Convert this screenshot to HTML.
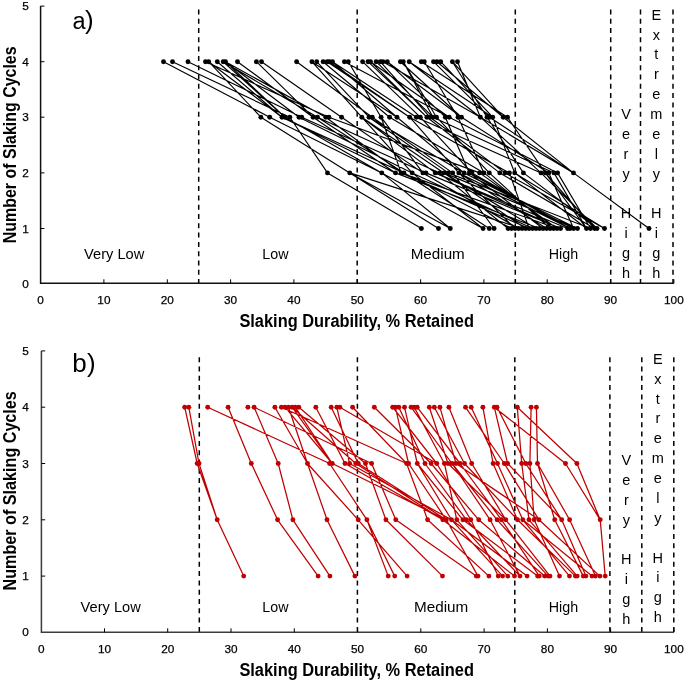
<!DOCTYPE html><html><head><meta charset="utf-8"><style>
html,body{margin:0;padding:0;background:#fff;overflow:hidden;width:685px;height:682px;}
svg{display:block;will-change:transform;}
text{font-family:"Liberation Sans",sans-serif;fill:#000;}
.tl{font-size:11.8px;stroke:#000;stroke-width:0.25px;}
.tt{font-size:18px;font-weight:bold;}
.zl{font-size:14px;}
.vl{font-size:14.5px;}
.pl{font-size:26px;}
.dash{stroke:#000;stroke-width:1.5;stroke-dasharray:5 4.3;}
.ax{stroke:#000;stroke-width:1.5;fill:none;}
.tk{stroke:#000;stroke-width:1;fill:none;}
</style></head><body>
<svg width="685" height="682" viewBox="0 0 685 682">
<rect width="685" height="682" fill="#fff"/>

<line x1="198.7" y1="9.4" x2="198.7" y2="283.3" class="dash"/>
<line x1="357.2" y1="9.4" x2="357.2" y2="283.3" class="dash"/>
<line x1="515.3" y1="9.4" x2="515.3" y2="283.3" class="dash"/>
<line x1="610.7" y1="9.4" x2="610.7" y2="283.3" class="dash"/>
<line x1="640.5" y1="9.4" x2="640.5" y2="283.3" class="dash"/>
<line x1="673" y1="9.4" x2="673" y2="283.3" class="dash"/>
<path d="M163.5 61.7L269.7 117.2M172.5 61.7L289.8 117.2M188 61.7L301.7 117.2M208.7 61.7L260.9 117.2M296.6 61.7L372.3 117.2M311.9 61.7L361.8 117.2M316.7 61.7L369 117.2M261.5 61.7L341.6 117.2M217.3 61.7L282 117.2M223.2 61.7L285 117.2M225.5 61.7L299 117.2M256.4 61.7L313.1 117.2M223.2 61.7L317.5 117.2M225.5 61.7L325.8 117.2M205.5 61.7L328.9 117.2M348.3 61.7L381.1 117.2M323.1 61.7L389.6 117.2M332.5 61.7L397 117.2M329.4 61.7L409.7 117.2M332.5 61.7L416.4 117.2M362.6 61.7L420.3 117.2M370.5 61.7L426.9 117.2M380.3 61.7L430 117.2M403.3 61.7L433 117.2M403.3 61.7L436.5 117.2M387.3 61.7L445.3 117.2M344.4 61.7L449.2 117.2M424.3 61.7L458 117.2M400.4 61.7L461.5 117.2M457.5 61.7L480.4 117.2M452.4 61.7L487 117.2M433.5 61.7L489.6 117.2M440.7 61.7L492.7 117.2M452.4 61.7L503.2 117.2M421.3 61.7L507.5 117.2M237.5 61.7L313.1 117.2M327.2 61.7L409.7 117.2M368 61.7L426.9 117.2M376.1 61.7L433 117.2M382.9 61.7L480.4 117.2M409.2 61.7L492.7 117.2M437 61.7L503.2 117.2M370.5 61.7L449.2 117.2M409.2 61.7L480.4 117.2M387.3 61.7L461.5 117.2M208.7 61.7L282 117.2M311.9 61.7L397 117.2M225.5 61.7L285 117.2M260.9 117.2L349.8 172.9M289.8 117.2L327.5 172.9M269.7 117.2L381.8 172.9M282 117.2L395.5 172.9M381.1 117.2L401.2 172.9M282 117.2L404 172.9M299 117.2L412.2 172.9M381.1 117.2L422.9 172.9M301.7 117.2L425.9 172.9M361.8 117.2L435.2 172.9M317.5 117.2L439.5 172.9M361.8 117.2L443.9 172.9M369 117.2L448.3 172.9M372.3 117.2L452.7 172.9M409.7 117.2L458.8 172.9M369 117.2L464.1 172.9M445.3 117.2L469.3 172.9M420.3 117.2L471.9 172.9M328.9 117.2L479.6 172.9M458 117.2L484 172.9M436.5 117.2L489.3 172.9M426.9 117.2L499.8 172.9M430 117.2L505 172.9M409.7 117.2L509.4 172.9M492.7 117.2L514.7 172.9M487 117.2L523.4 172.9M416.4 117.2L541 172.9M507.5 117.2L545.3 172.9M461.5 117.2L548.8 172.9M433 117.2L554 172.9M449.2 117.2L557.6 172.9M480.4 117.2L573.5 172.9M285 117.2L381.8 172.9M313.1 117.2L395.5 172.9M325.8 117.2L401.2 172.9M341.6 117.2L422.9 172.9M389.6 117.2L484 172.9M397 117.2L464.1 172.9M489.6 117.2L573.5 172.9M503.2 117.2L573.5 172.9M480.4 117.2L541 172.9M361.8 117.2L412.2 172.9M317.5 117.2L404 172.9M327.5 172.9L421.4 228.5M349.8 172.9L438.5 228.5M349.8 172.9L522.1 228.5M381.8 172.9L450.3 228.5M573.5 172.9L649 228.5M412.2 172.9L483.1 228.5M404 172.9L489.3 228.5M452.7 172.9L494.1 228.5M439.5 172.9L508.1 228.5M404 172.9L511.6 228.5M458.8 172.9L515.1 228.5M422.9 172.9L518.6 228.5M443.9 172.9L525.6 228.5M509.4 172.9L529.1 228.5M412.2 172.9L532.6 228.5M443.9 172.9L536.1 228.5M395.5 172.9L539.6 228.5M469.3 172.9L543.1 228.5M458.8 172.9L546.6 228.5M489.3 172.9L550.1 228.5M484 172.9L553.6 228.5M479.6 172.9L557.1 228.5M435.2 172.9L560.6 228.5M435.2 172.9L567.6 228.5M471.9 172.9L570 228.5M464.1 172.9L573.6 228.5M464.1 172.9L577.5 228.5M514.7 172.9L586.5 228.5M557.6 172.9L590.5 228.5M545.3 172.9L594.6 228.5M523.4 172.9L597 228.5M514.7 172.9L604.5 228.5M401.2 172.9L557.1 228.5M425.9 172.9L560.6 228.5M448.3 172.9L590.5 228.5M499.8 172.9L594.6 228.5M505 172.9L604.5 228.5M541 172.9L597 228.5M548.8 172.9L573.6 228.5M554 172.9L586.5 228.5M401.2 172.9L529.1 228.5M381.8 172.9L483.1 228.5M349.8 172.9L450.3 228.5M469.3 172.9L570 228.5M545.3 172.9L586.5 228.5M443.9 172.9L577.5 228.5M458.8 172.9L570 228.5" stroke="#000000" stroke-width="1.15" fill="none"/>
<circle cx="163.5" cy="61.7" r="2.45" fill="#000000"/>
<circle cx="172.5" cy="61.7" r="2.45" fill="#000000"/>
<circle cx="188" cy="61.7" r="2.45" fill="#000000"/>
<circle cx="205.5" cy="61.7" r="2.45" fill="#000000"/>
<circle cx="208.7" cy="61.7" r="2.45" fill="#000000"/>
<circle cx="217.3" cy="61.7" r="2.45" fill="#000000"/>
<circle cx="223.2" cy="61.7" r="2.45" fill="#000000"/>
<circle cx="225.5" cy="61.7" r="2.45" fill="#000000"/>
<circle cx="237.5" cy="61.7" r="2.45" fill="#000000"/>
<circle cx="256.4" cy="61.7" r="2.45" fill="#000000"/>
<circle cx="261.5" cy="61.7" r="2.45" fill="#000000"/>
<circle cx="296.6" cy="61.7" r="2.45" fill="#000000"/>
<circle cx="311.9" cy="61.7" r="2.45" fill="#000000"/>
<circle cx="316.7" cy="61.7" r="2.45" fill="#000000"/>
<circle cx="323.1" cy="61.7" r="2.45" fill="#000000"/>
<circle cx="327.2" cy="61.7" r="2.45" fill="#000000"/>
<circle cx="329.4" cy="61.7" r="2.45" fill="#000000"/>
<circle cx="332.5" cy="61.7" r="2.45" fill="#000000"/>
<circle cx="344.4" cy="61.7" r="2.45" fill="#000000"/>
<circle cx="348.3" cy="61.7" r="2.45" fill="#000000"/>
<circle cx="362.6" cy="61.7" r="2.45" fill="#000000"/>
<circle cx="368" cy="61.7" r="2.45" fill="#000000"/>
<circle cx="370.5" cy="61.7" r="2.45" fill="#000000"/>
<circle cx="376.1" cy="61.7" r="2.45" fill="#000000"/>
<circle cx="380.3" cy="61.7" r="2.45" fill="#000000"/>
<circle cx="382.9" cy="61.7" r="2.45" fill="#000000"/>
<circle cx="387.3" cy="61.7" r="2.45" fill="#000000"/>
<circle cx="400.4" cy="61.7" r="2.45" fill="#000000"/>
<circle cx="403.3" cy="61.7" r="2.45" fill="#000000"/>
<circle cx="409.2" cy="61.7" r="2.45" fill="#000000"/>
<circle cx="421.3" cy="61.7" r="2.45" fill="#000000"/>
<circle cx="424.3" cy="61.7" r="2.45" fill="#000000"/>
<circle cx="433.5" cy="61.7" r="2.45" fill="#000000"/>
<circle cx="437" cy="61.7" r="2.45" fill="#000000"/>
<circle cx="440.7" cy="61.7" r="2.45" fill="#000000"/>
<circle cx="452.4" cy="61.7" r="2.45" fill="#000000"/>
<circle cx="457.5" cy="61.7" r="2.45" fill="#000000"/>
<circle cx="260.9" cy="117.2" r="2.45" fill="#000000"/>
<circle cx="269.7" cy="117.2" r="2.45" fill="#000000"/>
<circle cx="282" cy="117.2" r="2.45" fill="#000000"/>
<circle cx="285" cy="117.2" r="2.45" fill="#000000"/>
<circle cx="289.8" cy="117.2" r="2.45" fill="#000000"/>
<circle cx="299" cy="117.2" r="2.45" fill="#000000"/>
<circle cx="301.7" cy="117.2" r="2.45" fill="#000000"/>
<circle cx="313.1" cy="117.2" r="2.45" fill="#000000"/>
<circle cx="317.5" cy="117.2" r="2.45" fill="#000000"/>
<circle cx="325.8" cy="117.2" r="2.45" fill="#000000"/>
<circle cx="328.9" cy="117.2" r="2.45" fill="#000000"/>
<circle cx="341.6" cy="117.2" r="2.45" fill="#000000"/>
<circle cx="361.8" cy="117.2" r="2.45" fill="#000000"/>
<circle cx="369" cy="117.2" r="2.45" fill="#000000"/>
<circle cx="372.3" cy="117.2" r="2.45" fill="#000000"/>
<circle cx="381.1" cy="117.2" r="2.45" fill="#000000"/>
<circle cx="389.6" cy="117.2" r="2.45" fill="#000000"/>
<circle cx="397" cy="117.2" r="2.45" fill="#000000"/>
<circle cx="409.7" cy="117.2" r="2.45" fill="#000000"/>
<circle cx="416.4" cy="117.2" r="2.45" fill="#000000"/>
<circle cx="420.3" cy="117.2" r="2.45" fill="#000000"/>
<circle cx="426.9" cy="117.2" r="2.45" fill="#000000"/>
<circle cx="430" cy="117.2" r="2.45" fill="#000000"/>
<circle cx="433" cy="117.2" r="2.45" fill="#000000"/>
<circle cx="436.5" cy="117.2" r="2.45" fill="#000000"/>
<circle cx="445.3" cy="117.2" r="2.45" fill="#000000"/>
<circle cx="449.2" cy="117.2" r="2.45" fill="#000000"/>
<circle cx="458" cy="117.2" r="2.45" fill="#000000"/>
<circle cx="461.5" cy="117.2" r="2.45" fill="#000000"/>
<circle cx="480.4" cy="117.2" r="2.45" fill="#000000"/>
<circle cx="487" cy="117.2" r="2.45" fill="#000000"/>
<circle cx="489.6" cy="117.2" r="2.45" fill="#000000"/>
<circle cx="492.7" cy="117.2" r="2.45" fill="#000000"/>
<circle cx="503.2" cy="117.2" r="2.45" fill="#000000"/>
<circle cx="507.5" cy="117.2" r="2.45" fill="#000000"/>
<circle cx="327.5" cy="172.9" r="2.45" fill="#000000"/>
<circle cx="349.8" cy="172.9" r="2.45" fill="#000000"/>
<circle cx="381.8" cy="172.9" r="2.45" fill="#000000"/>
<circle cx="395.5" cy="172.9" r="2.45" fill="#000000"/>
<circle cx="401.2" cy="172.9" r="2.45" fill="#000000"/>
<circle cx="404" cy="172.9" r="2.45" fill="#000000"/>
<circle cx="412.2" cy="172.9" r="2.45" fill="#000000"/>
<circle cx="422.9" cy="172.9" r="2.45" fill="#000000"/>
<circle cx="425.9" cy="172.9" r="2.45" fill="#000000"/>
<circle cx="435.2" cy="172.9" r="2.45" fill="#000000"/>
<circle cx="439.5" cy="172.9" r="2.45" fill="#000000"/>
<circle cx="443.9" cy="172.9" r="2.45" fill="#000000"/>
<circle cx="448.3" cy="172.9" r="2.45" fill="#000000"/>
<circle cx="452.7" cy="172.9" r="2.45" fill="#000000"/>
<circle cx="458.8" cy="172.9" r="2.45" fill="#000000"/>
<circle cx="464.1" cy="172.9" r="2.45" fill="#000000"/>
<circle cx="469.3" cy="172.9" r="2.45" fill="#000000"/>
<circle cx="471.9" cy="172.9" r="2.45" fill="#000000"/>
<circle cx="479.6" cy="172.9" r="2.45" fill="#000000"/>
<circle cx="484" cy="172.9" r="2.45" fill="#000000"/>
<circle cx="489.3" cy="172.9" r="2.45" fill="#000000"/>
<circle cx="499.8" cy="172.9" r="2.45" fill="#000000"/>
<circle cx="505" cy="172.9" r="2.45" fill="#000000"/>
<circle cx="509.4" cy="172.9" r="2.45" fill="#000000"/>
<circle cx="514.7" cy="172.9" r="2.45" fill="#000000"/>
<circle cx="523.4" cy="172.9" r="2.45" fill="#000000"/>
<circle cx="541" cy="172.9" r="2.45" fill="#000000"/>
<circle cx="545.3" cy="172.9" r="2.45" fill="#000000"/>
<circle cx="548.8" cy="172.9" r="2.45" fill="#000000"/>
<circle cx="554" cy="172.9" r="2.45" fill="#000000"/>
<circle cx="557.6" cy="172.9" r="2.45" fill="#000000"/>
<circle cx="573.5" cy="172.9" r="2.45" fill="#000000"/>
<circle cx="421.4" cy="228.5" r="2.45" fill="#000000"/>
<circle cx="438.5" cy="228.5" r="2.45" fill="#000000"/>
<circle cx="450.3" cy="228.5" r="2.45" fill="#000000"/>
<circle cx="483.1" cy="228.5" r="2.45" fill="#000000"/>
<circle cx="489.3" cy="228.5" r="2.45" fill="#000000"/>
<circle cx="494.1" cy="228.5" r="2.45" fill="#000000"/>
<circle cx="508.1" cy="228.5" r="2.45" fill="#000000"/>
<circle cx="511.6" cy="228.5" r="2.45" fill="#000000"/>
<circle cx="515.1" cy="228.5" r="2.45" fill="#000000"/>
<circle cx="518.6" cy="228.5" r="2.45" fill="#000000"/>
<circle cx="522.1" cy="228.5" r="2.45" fill="#000000"/>
<circle cx="525.6" cy="228.5" r="2.45" fill="#000000"/>
<circle cx="529.1" cy="228.5" r="2.45" fill="#000000"/>
<circle cx="532.6" cy="228.5" r="2.45" fill="#000000"/>
<circle cx="536.1" cy="228.5" r="2.45" fill="#000000"/>
<circle cx="539.6" cy="228.5" r="2.45" fill="#000000"/>
<circle cx="543.1" cy="228.5" r="2.45" fill="#000000"/>
<circle cx="546.6" cy="228.5" r="2.45" fill="#000000"/>
<circle cx="550.1" cy="228.5" r="2.45" fill="#000000"/>
<circle cx="553.6" cy="228.5" r="2.45" fill="#000000"/>
<circle cx="557.1" cy="228.5" r="2.45" fill="#000000"/>
<circle cx="560.6" cy="228.5" r="2.45" fill="#000000"/>
<circle cx="567.6" cy="228.5" r="2.45" fill="#000000"/>
<circle cx="570" cy="228.5" r="2.45" fill="#000000"/>
<circle cx="573.6" cy="228.5" r="2.45" fill="#000000"/>
<circle cx="577.5" cy="228.5" r="2.45" fill="#000000"/>
<circle cx="586.5" cy="228.5" r="2.45" fill="#000000"/>
<circle cx="590.5" cy="228.5" r="2.45" fill="#000000"/>
<circle cx="594.6" cy="228.5" r="2.45" fill="#000000"/>
<circle cx="597" cy="228.5" r="2.45" fill="#000000"/>
<circle cx="604.5" cy="228.5" r="2.45" fill="#000000"/>
<circle cx="649" cy="228.5" r="2.45" fill="#000000"/>
<path d="M40.6 6V283.3H673.9" class="ax" style="stroke:#111"/>
<path d="M103.9 283.3V279.3M167.3 283.3V279.3M230.6 283.3V279.3M293.9 283.3V279.3M357.3 283.3V279.3M420.6 283.3V279.3M483.9 283.3V279.3M547.2 283.3V279.3M610.6 283.3V279.3M673.9 283.3V279.3M40.6 228.5H44.4M40.6 172.9H44.4M40.6 117.2H44.4M40.6 61.7H44.4M40.6 6.1H44.4" class="tk"/>
<text x="40.6" y="303.9" class="tl" text-anchor="middle">0</text>
<text x="103.9" y="303.9" class="tl" text-anchor="middle">10</text>
<text x="167.3" y="303.9" class="tl" text-anchor="middle">20</text>
<text x="230.6" y="303.9" class="tl" text-anchor="middle">30</text>
<text x="293.9" y="303.9" class="tl" text-anchor="middle">40</text>
<text x="357.3" y="303.9" class="tl" text-anchor="middle">50</text>
<text x="420.6" y="303.9" class="tl" text-anchor="middle">60</text>
<text x="483.9" y="303.9" class="tl" text-anchor="middle">70</text>
<text x="547.2" y="303.9" class="tl" text-anchor="middle">80</text>
<text x="610.6" y="303.9" class="tl" text-anchor="middle">90</text>
<text x="673.9" y="303.9" class="tl" text-anchor="middle">100</text>
<text x="25.6" y="288.1" class="tl" text-anchor="middle">0</text>
<text x="25.6" y="232.5" class="tl" text-anchor="middle">1</text>
<text x="25.6" y="176.9" class="tl" text-anchor="middle">2</text>
<text x="25.6" y="121.2" class="tl" text-anchor="middle">3</text>
<text x="25.6" y="65.7" class="tl" text-anchor="middle">4</text>
<text x="25.6" y="10.1" class="tl" text-anchor="middle">5</text>
<line x1="199.3" y1="357.2" x2="199.3" y2="632.3" class="dash"/>
<line x1="357.4" y1="357.2" x2="357.4" y2="632.3" class="dash"/>
<line x1="514.8" y1="357.2" x2="514.8" y2="632.3" class="dash"/>
<line x1="609.9" y1="357.2" x2="609.9" y2="632.3" class="dash"/>
<line x1="641.8" y1="357.2" x2="641.8" y2="632.3" class="dash"/>
<line x1="673.8" y1="357.2" x2="673.8" y2="632.3" class="dash"/>
<path d="M184.7 407.2L197.2 463.5M188.8 407.2L199 463.5M288.5 407.2L307.5 463.5M315.8 407.2L345 463.5M331.2 407.2L358.3 463.5M207.7 407.2L329.6 463.5M228.1 407.2L251.3 463.5M254.1 407.2L278.2 463.5M254.1 407.2L371.6 463.5M274.9 407.2L307.5 463.5M336.8 407.2L349.6 463.5M339.9 407.2L436.7 463.5M352.6 407.2L406.6 463.5M281.4 407.2L406.6 463.5M392.7 407.2L436.7 463.5M395.3 407.2L408.6 463.5M398.8 407.2L425 463.5M404.5 407.2L417.3 463.5M411.1 407.2L452 463.5M414.2 407.2L444.4 463.5M417.2 407.2L460 463.5M429.3 407.2L448 463.5M434.3 407.2L464.5 463.5M439.9 407.2L456 463.5M374.3 407.2L431.1 463.5M448.9 407.2L471.7 463.5M482.9 407.2L493.1 463.5M494.3 407.2L507.6 463.5M494.3 407.2L565.5 463.5M517.3 407.2L521.7 463.5M517.3 407.2L576.9 463.5M531.1 407.2L529.9 463.5M536.4 407.2L537.5 463.5M471.2 407.2L497.5 463.5M292.1 407.2L332.3 463.5M292.1 407.2L355.8 463.5M298.8 407.2L365.5 463.5M465.5 407.2L504.3 463.5M497 407.2L525.8 463.5M285 407.2L332.3 463.5M295.2 407.2L332.3 463.5M197.2 463.5L217.2 519.8M199 463.5L217.2 519.8M251.3 463.5L277.6 519.8M278.2 463.5L292.9 519.8M307.5 463.5L327 519.8M307.5 463.5L358.2 519.8M329.6 463.5L366.9 519.8M365.5 463.5L385.9 519.8M371.6 463.5L395.8 519.8M406.6 463.5L427.6 519.8M355.8 463.5L442.8 519.8M408.6 463.5L446.3 519.8M417.3 463.5L451.5 519.8M444.4 463.5L456.8 519.8M417.3 463.5L462.9 519.8M425 463.5L466.4 519.8M436.7 463.5L470.8 519.8M431.1 463.5L478.7 519.8M452 463.5L490.1 519.8M452 463.5L497.1 519.8M460 463.5L501.5 519.8M471.7 463.5L505.8 519.8M464.5 463.5L517.5 519.8M497.5 463.5L522.8 519.8M521.7 463.5L529 519.8M529.9 463.5L534.2 519.8M504.3 463.5L539 519.8M537.5 463.5L554.7 519.8M525.8 463.5L561.7 519.8M537.5 463.5L569.6 519.8M576.9 463.5L600.2 519.8M332.3 463.5L446.3 519.8M345 463.5L442.8 519.8M349.6 463.5L451.5 519.8M358.3 463.5L446.3 519.8M448 463.5L505.8 519.8M456 463.5L539 519.8M493.1 463.5L517.5 519.8M507.6 463.5L561.7 519.8M565.5 463.5L600.2 519.8M217.2 519.8L243.7 576.1M277.6 519.8L318.1 576.1M292.9 519.8L329.9 576.1M327 519.8L354.9 576.1M358.2 519.8L407.1 576.1M366.9 519.8L388.2 576.1M366.9 519.8L394.7 576.1M385.9 519.8L442.5 576.1M395.8 519.8L476.3 576.1M427.6 519.8L488.9 576.1M446.3 519.8L478 576.1M470.8 519.8L498.2 576.1M451.5 519.8L502.6 576.1M456.8 519.8L507.8 576.1M442.8 519.8L514.5 576.1M466.4 519.8L520 576.1M451.5 519.8L527.1 576.1M462.9 519.8L537.6 576.1M501.5 519.8L539.3 576.1M478.7 519.8L544.6 576.1M497.1 519.8L548.1 576.1M505.8 519.8L550 576.1M534.2 519.8L559.5 576.1M522.8 519.8L569.5 576.1M517.5 519.8L575.4 576.1M529 519.8L577.2 576.1M554.7 519.8L583.3 576.1M561.7 519.8L585.9 576.1M522.8 519.8L592 576.1M569.6 519.8L595.5 576.1M539 519.8L599.9 576.1M600.2 519.8L605.2 576.1M490.1 519.8L520 576.1" stroke="#C00000" stroke-width="1.25" fill="none"/>
<circle cx="184.7" cy="407.2" r="2.45" fill="#C00000"/>
<circle cx="188.8" cy="407.2" r="2.45" fill="#C00000"/>
<circle cx="207.7" cy="407.2" r="2.45" fill="#C00000"/>
<circle cx="228.1" cy="407.2" r="2.45" fill="#C00000"/>
<circle cx="247.9" cy="407.2" r="2.45" fill="#C00000"/>
<circle cx="254.1" cy="407.2" r="2.45" fill="#C00000"/>
<circle cx="274.9" cy="407.2" r="2.45" fill="#C00000"/>
<circle cx="281.4" cy="407.2" r="2.45" fill="#C00000"/>
<circle cx="285" cy="407.2" r="2.45" fill="#C00000"/>
<circle cx="288.5" cy="407.2" r="2.45" fill="#C00000"/>
<circle cx="292.1" cy="407.2" r="2.45" fill="#C00000"/>
<circle cx="295.2" cy="407.2" r="2.45" fill="#C00000"/>
<circle cx="298.8" cy="407.2" r="2.45" fill="#C00000"/>
<circle cx="315.8" cy="407.2" r="2.45" fill="#C00000"/>
<circle cx="331.2" cy="407.2" r="2.45" fill="#C00000"/>
<circle cx="336.8" cy="407.2" r="2.45" fill="#C00000"/>
<circle cx="339.9" cy="407.2" r="2.45" fill="#C00000"/>
<circle cx="352.6" cy="407.2" r="2.45" fill="#C00000"/>
<circle cx="374.3" cy="407.2" r="2.45" fill="#C00000"/>
<circle cx="392.7" cy="407.2" r="2.45" fill="#C00000"/>
<circle cx="395.3" cy="407.2" r="2.45" fill="#C00000"/>
<circle cx="398.8" cy="407.2" r="2.45" fill="#C00000"/>
<circle cx="404.5" cy="407.2" r="2.45" fill="#C00000"/>
<circle cx="411.1" cy="407.2" r="2.45" fill="#C00000"/>
<circle cx="414.2" cy="407.2" r="2.45" fill="#C00000"/>
<circle cx="417.2" cy="407.2" r="2.45" fill="#C00000"/>
<circle cx="429.3" cy="407.2" r="2.45" fill="#C00000"/>
<circle cx="434.3" cy="407.2" r="2.45" fill="#C00000"/>
<circle cx="439.9" cy="407.2" r="2.45" fill="#C00000"/>
<circle cx="448.9" cy="407.2" r="2.45" fill="#C00000"/>
<circle cx="465.5" cy="407.2" r="2.45" fill="#C00000"/>
<circle cx="471.2" cy="407.2" r="2.45" fill="#C00000"/>
<circle cx="482.9" cy="407.2" r="2.45" fill="#C00000"/>
<circle cx="494.3" cy="407.2" r="2.45" fill="#C00000"/>
<circle cx="497" cy="407.2" r="2.45" fill="#C00000"/>
<circle cx="517.3" cy="407.2" r="2.45" fill="#C00000"/>
<circle cx="531.1" cy="407.2" r="2.45" fill="#C00000"/>
<circle cx="536.4" cy="407.2" r="2.45" fill="#C00000"/>
<circle cx="197.2" cy="463.5" r="2.45" fill="#C00000"/>
<circle cx="199" cy="463.5" r="2.45" fill="#C00000"/>
<circle cx="251.3" cy="463.5" r="2.45" fill="#C00000"/>
<circle cx="278.2" cy="463.5" r="2.45" fill="#C00000"/>
<circle cx="307.5" cy="463.5" r="2.45" fill="#C00000"/>
<circle cx="329.6" cy="463.5" r="2.45" fill="#C00000"/>
<circle cx="332.3" cy="463.5" r="2.45" fill="#C00000"/>
<circle cx="345" cy="463.5" r="2.45" fill="#C00000"/>
<circle cx="349.6" cy="463.5" r="2.45" fill="#C00000"/>
<circle cx="355.8" cy="463.5" r="2.45" fill="#C00000"/>
<circle cx="358.3" cy="463.5" r="2.45" fill="#C00000"/>
<circle cx="365.5" cy="463.5" r="2.45" fill="#C00000"/>
<circle cx="371.6" cy="463.5" r="2.45" fill="#C00000"/>
<circle cx="406.6" cy="463.5" r="2.45" fill="#C00000"/>
<circle cx="408.6" cy="463.5" r="2.45" fill="#C00000"/>
<circle cx="417.3" cy="463.5" r="2.45" fill="#C00000"/>
<circle cx="425" cy="463.5" r="2.45" fill="#C00000"/>
<circle cx="431.1" cy="463.5" r="2.45" fill="#C00000"/>
<circle cx="436.7" cy="463.5" r="2.45" fill="#C00000"/>
<circle cx="444.4" cy="463.5" r="2.45" fill="#C00000"/>
<circle cx="448" cy="463.5" r="2.45" fill="#C00000"/>
<circle cx="452" cy="463.5" r="2.45" fill="#C00000"/>
<circle cx="456" cy="463.5" r="2.45" fill="#C00000"/>
<circle cx="460" cy="463.5" r="2.45" fill="#C00000"/>
<circle cx="464.5" cy="463.5" r="2.45" fill="#C00000"/>
<circle cx="471.7" cy="463.5" r="2.45" fill="#C00000"/>
<circle cx="493.1" cy="463.5" r="2.45" fill="#C00000"/>
<circle cx="497.5" cy="463.5" r="2.45" fill="#C00000"/>
<circle cx="504.3" cy="463.5" r="2.45" fill="#C00000"/>
<circle cx="507.6" cy="463.5" r="2.45" fill="#C00000"/>
<circle cx="521.7" cy="463.5" r="2.45" fill="#C00000"/>
<circle cx="525.8" cy="463.5" r="2.45" fill="#C00000"/>
<circle cx="529.9" cy="463.5" r="2.45" fill="#C00000"/>
<circle cx="537.5" cy="463.5" r="2.45" fill="#C00000"/>
<circle cx="565.5" cy="463.5" r="2.45" fill="#C00000"/>
<circle cx="576.9" cy="463.5" r="2.45" fill="#C00000"/>
<circle cx="217.2" cy="519.8" r="2.45" fill="#C00000"/>
<circle cx="277.6" cy="519.8" r="2.45" fill="#C00000"/>
<circle cx="292.9" cy="519.8" r="2.45" fill="#C00000"/>
<circle cx="327" cy="519.8" r="2.45" fill="#C00000"/>
<circle cx="358.2" cy="519.8" r="2.45" fill="#C00000"/>
<circle cx="366.9" cy="519.8" r="2.45" fill="#C00000"/>
<circle cx="385.9" cy="519.8" r="2.45" fill="#C00000"/>
<circle cx="395.8" cy="519.8" r="2.45" fill="#C00000"/>
<circle cx="427.6" cy="519.8" r="2.45" fill="#C00000"/>
<circle cx="442.8" cy="519.8" r="2.45" fill="#C00000"/>
<circle cx="446.3" cy="519.8" r="2.45" fill="#C00000"/>
<circle cx="451.5" cy="519.8" r="2.45" fill="#C00000"/>
<circle cx="456.8" cy="519.8" r="2.45" fill="#C00000"/>
<circle cx="462.9" cy="519.8" r="2.45" fill="#C00000"/>
<circle cx="466.4" cy="519.8" r="2.45" fill="#C00000"/>
<circle cx="470.8" cy="519.8" r="2.45" fill="#C00000"/>
<circle cx="478.7" cy="519.8" r="2.45" fill="#C00000"/>
<circle cx="490.1" cy="519.8" r="2.45" fill="#C00000"/>
<circle cx="497.1" cy="519.8" r="2.45" fill="#C00000"/>
<circle cx="501.5" cy="519.8" r="2.45" fill="#C00000"/>
<circle cx="505.8" cy="519.8" r="2.45" fill="#C00000"/>
<circle cx="517.5" cy="519.8" r="2.45" fill="#C00000"/>
<circle cx="522.8" cy="519.8" r="2.45" fill="#C00000"/>
<circle cx="529" cy="519.8" r="2.45" fill="#C00000"/>
<circle cx="534.2" cy="519.8" r="2.45" fill="#C00000"/>
<circle cx="539" cy="519.8" r="2.45" fill="#C00000"/>
<circle cx="554.7" cy="519.8" r="2.45" fill="#C00000"/>
<circle cx="561.7" cy="519.8" r="2.45" fill="#C00000"/>
<circle cx="569.6" cy="519.8" r="2.45" fill="#C00000"/>
<circle cx="600.2" cy="519.8" r="2.45" fill="#C00000"/>
<circle cx="243.7" cy="576.1" r="2.45" fill="#C00000"/>
<circle cx="318.1" cy="576.1" r="2.45" fill="#C00000"/>
<circle cx="329.9" cy="576.1" r="2.45" fill="#C00000"/>
<circle cx="354.9" cy="576.1" r="2.45" fill="#C00000"/>
<circle cx="388.2" cy="576.1" r="2.45" fill="#C00000"/>
<circle cx="394.7" cy="576.1" r="2.45" fill="#C00000"/>
<circle cx="407.1" cy="576.1" r="2.45" fill="#C00000"/>
<circle cx="442.5" cy="576.1" r="2.45" fill="#C00000"/>
<circle cx="476.3" cy="576.1" r="2.45" fill="#C00000"/>
<circle cx="478" cy="576.1" r="2.45" fill="#C00000"/>
<circle cx="488.9" cy="576.1" r="2.45" fill="#C00000"/>
<circle cx="498.2" cy="576.1" r="2.45" fill="#C00000"/>
<circle cx="502.6" cy="576.1" r="2.45" fill="#C00000"/>
<circle cx="507.8" cy="576.1" r="2.45" fill="#C00000"/>
<circle cx="514.5" cy="576.1" r="2.45" fill="#C00000"/>
<circle cx="520" cy="576.1" r="2.45" fill="#C00000"/>
<circle cx="527.1" cy="576.1" r="2.45" fill="#C00000"/>
<circle cx="537.6" cy="576.1" r="2.45" fill="#C00000"/>
<circle cx="539.3" cy="576.1" r="2.45" fill="#C00000"/>
<circle cx="544.6" cy="576.1" r="2.45" fill="#C00000"/>
<circle cx="548.1" cy="576.1" r="2.45" fill="#C00000"/>
<circle cx="550" cy="576.1" r="2.45" fill="#C00000"/>
<circle cx="559.5" cy="576.1" r="2.45" fill="#C00000"/>
<circle cx="569.5" cy="576.1" r="2.45" fill="#C00000"/>
<circle cx="575.4" cy="576.1" r="2.45" fill="#C00000"/>
<circle cx="577.2" cy="576.1" r="2.45" fill="#C00000"/>
<circle cx="583.3" cy="576.1" r="2.45" fill="#C00000"/>
<circle cx="585.9" cy="576.1" r="2.45" fill="#C00000"/>
<circle cx="592" cy="576.1" r="2.45" fill="#C00000"/>
<circle cx="595.5" cy="576.1" r="2.45" fill="#C00000"/>
<circle cx="599.9" cy="576.1" r="2.45" fill="#C00000"/>
<circle cx="605.2" cy="576.1" r="2.45" fill="#C00000"/>
<path d="M41.4 351V632.3H673.9" class="ax" style="stroke:#3c3c3c"/>
<path d="M104.5 632.3V628.3M167.7 632.3V628.3M231 632.3V628.3M294.3 632.3V628.3M357.6 632.3V628.3M420.8 632.3V628.3M484.1 632.3V628.3M547.4 632.3V628.3M610.6 632.3V628.3M673.9 632.3V628.3M41.4 576.1H45.2M41.4 519.8H45.2M41.4 463.5H45.2M41.4 407.2H45.2M41.4 350.9H45.2" class="tk"/>
<text x="41.2" y="652.9" class="tl" text-anchor="middle">0</text>
<text x="104.5" y="652.9" class="tl" text-anchor="middle">10</text>
<text x="167.7" y="652.9" class="tl" text-anchor="middle">20</text>
<text x="231" y="652.9" class="tl" text-anchor="middle">30</text>
<text x="294.3" y="652.9" class="tl" text-anchor="middle">40</text>
<text x="357.6" y="652.9" class="tl" text-anchor="middle">50</text>
<text x="420.8" y="652.9" class="tl" text-anchor="middle">60</text>
<text x="484.1" y="652.9" class="tl" text-anchor="middle">70</text>
<text x="547.4" y="652.9" class="tl" text-anchor="middle">80</text>
<text x="610.6" y="652.9" class="tl" text-anchor="middle">90</text>
<text x="673.9" y="652.9" class="tl" text-anchor="middle">100</text>
<text x="25.6" y="636.4" class="tl" text-anchor="middle">0</text>
<text x="25.6" y="580.1" class="tl" text-anchor="middle">1</text>
<text x="25.6" y="523.8" class="tl" text-anchor="middle">2</text>
<text x="25.6" y="467.5" class="tl" text-anchor="middle">3</text>
<text x="25.6" y="411.2" class="tl" text-anchor="middle">4</text>
<text x="25.6" y="354.9" class="tl" text-anchor="middle">5</text>
<text x="239.4" y="327.3" class="tt" textLength="234.5" lengthAdjust="spacingAndGlyphs">Slaking Durability, % Retained</text>
<text transform="translate(15.8 243.2) rotate(-90)" class="tt" textLength="196.8" lengthAdjust="spacingAndGlyphs">Number of Slaking Cycles</text>
<text x="239.4" y="675.5" class="tt" textLength="234.5" lengthAdjust="spacingAndGlyphs">Slaking Durability, % Retained</text>
<text transform="translate(15.8 590.4) rotate(-90)" class="tt" textLength="199.2" lengthAdjust="spacingAndGlyphs">Number of Slaking Cycles</text>
<text x="84.1" y="258.9" class="zl" textLength="60.1" lengthAdjust="spacingAndGlyphs">Very Low</text>
<text x="262.3" y="258.9" class="zl" textLength="26.2" lengthAdjust="spacingAndGlyphs">Low</text>
<text x="410.7" y="258.9" class="zl" textLength="54.1" lengthAdjust="spacingAndGlyphs">Medium</text>
<text x="548.7" y="258.9" class="zl" textLength="29.4" lengthAdjust="spacingAndGlyphs">High</text>
<text x="80.6" y="612.4" class="zl" textLength="60.1" lengthAdjust="spacingAndGlyphs">Very Low</text>
<text x="262.3" y="612.4" class="zl" textLength="26.2" lengthAdjust="spacingAndGlyphs">Low</text>
<text x="414" y="612.4" class="zl" textLength="54.3" lengthAdjust="spacingAndGlyphs">Medium</text>
<text x="548.7" y="612.4" class="zl" textLength="29.4" lengthAdjust="spacingAndGlyphs">High</text>
<text x="656.3" y="19.6" class="vl" text-anchor="middle">E</text>
<text x="656.3" y="39.5" class="vl" text-anchor="middle">x</text>
<text x="656.3" y="59.4" class="vl" text-anchor="middle">t</text>
<text x="656.3" y="79.2" class="vl" text-anchor="middle">r</text>
<text x="656.3" y="99.1" class="vl" text-anchor="middle">e</text>
<text x="656.3" y="119" class="vl" text-anchor="middle">m</text>
<text x="656.3" y="138.9" class="vl" text-anchor="middle">e</text>
<text x="656.3" y="158.8" class="vl" text-anchor="middle">l</text>
<text x="656.3" y="178.6" class="vl" text-anchor="middle">y</text>
<text x="656.3" y="218.4" class="vl" text-anchor="middle">H</text>
<text x="656.3" y="238.3" class="vl" text-anchor="middle">i</text>
<text x="656.3" y="258.2" class="vl" text-anchor="middle">g</text>
<text x="656.3" y="278" class="vl" text-anchor="middle">h</text>
<text x="626" y="119" class="vl" text-anchor="middle">V</text>
<text x="626" y="138.9" class="vl" text-anchor="middle">e</text>
<text x="626" y="158.8" class="vl" text-anchor="middle">r</text>
<text x="626" y="178.6" class="vl" text-anchor="middle">y</text>
<text x="626" y="218.4" class="vl" text-anchor="middle">H</text>
<text x="626" y="238.3" class="vl" text-anchor="middle">i</text>
<text x="626" y="258.2" class="vl" text-anchor="middle">g</text>
<text x="626" y="278" class="vl" text-anchor="middle">h</text>
<text x="657.8" y="363.7" class="vl" text-anchor="middle">E</text>
<text x="657.8" y="383.6" class="vl" text-anchor="middle">x</text>
<text x="657.8" y="403.5" class="vl" text-anchor="middle">t</text>
<text x="657.8" y="423.3" class="vl" text-anchor="middle">r</text>
<text x="657.8" y="443.2" class="vl" text-anchor="middle">e</text>
<text x="657.8" y="463.1" class="vl" text-anchor="middle">m</text>
<text x="657.8" y="483" class="vl" text-anchor="middle">e</text>
<text x="657.8" y="502.9" class="vl" text-anchor="middle">l</text>
<text x="657.8" y="522.7" class="vl" text-anchor="middle">y</text>
<text x="657.8" y="562.5" class="vl" text-anchor="middle">H</text>
<text x="657.8" y="582.4" class="vl" text-anchor="middle">i</text>
<text x="657.8" y="602.3" class="vl" text-anchor="middle">g</text>
<text x="657.8" y="622.1" class="vl" text-anchor="middle">h</text>
<text x="626.3" y="464.9" class="vl" text-anchor="middle">V</text>
<text x="626.3" y="484.8" class="vl" text-anchor="middle">e</text>
<text x="626.3" y="504.7" class="vl" text-anchor="middle">r</text>
<text x="626.3" y="524.5" class="vl" text-anchor="middle">y</text>
<text x="626.3" y="564.3" class="vl" text-anchor="middle">H</text>
<text x="626.3" y="584.2" class="vl" text-anchor="middle">i</text>
<text x="626.3" y="604.1" class="vl" text-anchor="middle">g</text>
<text x="626.3" y="623.9" class="vl" text-anchor="middle">h</text>
<text x="72.6" y="29.3" style="font-size:23.5px">a</text>
<text x="84.9" y="29.3" class="pl">)</text>
<text x="72.2" y="371.5" class="pl">b</text>
<text x="86.9" y="371.5" class="pl">)</text>
</svg></body></html>
